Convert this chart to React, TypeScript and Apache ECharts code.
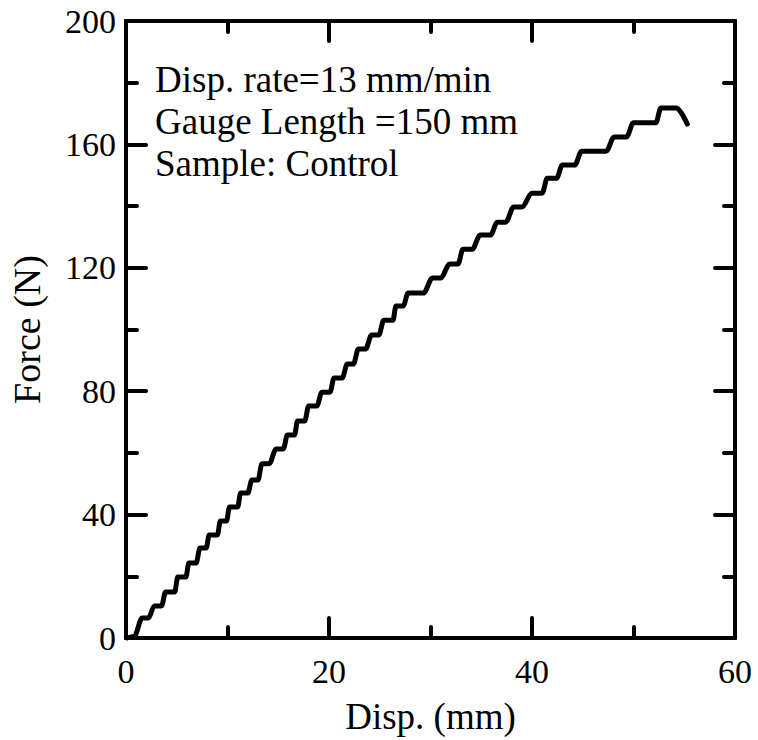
import React, { useEffect, useRef } from "react";
import * as echarts from "echarts";

const dispMM = [0.1, 0.8, 1.6, 2.2, 2.8, 3.5, 3.9, 4.8, 5.1, 5.9, 6.2, 6.9, 7.3, 7.9, 8.2, 9.0, 9.3, 9.9, 10.2, 11.0, 11.3, 12.0, 12.4, 13.0, 13.4, 14.1, 14.8, 15.5, 15.9, 16.6, 16.9, 17.6, 18.0, 18.8, 19.3, 20.1, 20.5, 21.3, 21.8, 22.4, 22.9, 23.6, 24.2, 24.9, 25.4, 26.3, 26.6, 27.3, 27.8, 29.3, 30.2, 31.0, 31.9, 32.7, 33.2, 34.1, 34.9, 35.9, 36.6, 37.4, 38.2, 39.0, 40.0, 41.0, 41.5, 42.4, 43.0, 44.2, 44.9, 47.3, 48.1, 49.3, 50.0, 52.2, 52.7, 54.2, 55.3];
const forceN = [0, 0.5, 6.5, 6.5, 10.4, 10.4, 14.9, 14.9, 19.8, 19.8, 24.3, 24.3, 29.2, 29.2, 33.4, 33.4, 37.9, 37.9, 42.5, 42.5, 47.0, 47.0, 51.2, 51.2, 56.5, 56.5, 61.3, 61.3, 65.8, 65.8, 70.3, 70.3, 75.2, 75.2, 79.7, 79.7, 84.3, 84.3, 88.8, 88.8, 93.7, 93.7, 98.2, 98.2, 103, 103, 107.6, 107.6, 111.8, 111.8, 116.7, 116.7, 121.2, 121.2, 126, 126, 130.6, 130.6, 134.8, 134.8, 139.7, 139.7, 144.2, 144.2, 149, 149, 153.3, 153.3, 157.8, 157.8, 162.4, 162.4, 167, 167, 171.8, 171.8, 166.6];
const annotations = ["Disp. rate=13 mm/min", "Gauge Length =150 mm", "Sample: Control"];
const xTitle = "Disp. (mm)";
const yTitle = "Force (N)";

const FONT = "'Liberation Serif', 'Times New Roman', serif";

export default function App() {
  const ref = useRef<HTMLDivElement>(null);
  useEffect(() => {
    document.body.style.margin = "0";
    if (!ref.current) return;
    const chart = echarts.init(ref.current, null, { renderer: "svg" });
    const axisLine = { show: true, onZero: false, lineStyle: { color: "#000", width: 4 } };
    const tick = { show: true, inside: true, length: 20, lineStyle: { color: "#000", width: 4, cap: "round" } };
    const minor = { show: true, splitNumber: 2, length: 11, lineStyle: { color: "#000", width: 4, cap: "round" } };
    const label = { color: "#000", fontFamily: FONT, fontSize: 34 };
    const xCommon = { type: "value", min: 0, max: 60, interval: 20, splitLine: { show: false }, axisLine, axisTick: tick, minorTick: minor };
    const yCommon = { type: "value", min: 0, max: 200, interval: 40, splitLine: { show: false }, axisLine, axisTick: tick, minorTick: minor };
    chart.setOption({
      animation: false,
      backgroundColor: "#fff",
      grid: { left: 120, right: 23, top: 21, bottom: 102, containLabel: false },
      xAxis: [
        { ...xCommon, position: "bottom", axisLabel: { ...label, margin: 16 }, name: xTitle, nameLocation: "middle", nameGap: 60, nameTextStyle: { ...label, fontSize: 37 } },
        { ...xCommon, position: "top", axisLabel: { show: false } },
      ],
      yAxis: [
        { ...yCommon, position: "left", axisLabel: { ...label, margin: 10 }, name: yTitle, nameLocation: "middle", nameGap: 80, nameTextStyle: { ...label, fontSize: 38 } },
        { ...yCommon, position: "right", axisLabel: { show: false } },
      ],
      series: [
        {
          type: "line",
          data: dispMM.map((x, i) => [x, forceN[i]]),
          showSymbol: false,
          symbol: "none",
          smooth: 0.35,
          smoothMonotone: "x",
          lineStyle: { color: "#000", width: 5, cap: "round", join: "round" },
          clip: false,
        },
      ],
      graphic: [
        {
          type: "text",
          left: 155,
          top: 58,
          style: { text: annotations.join("\n"), fill: "#000", font: `37px ${FONT}`, lineHeight: 42 },
        },
      ],
    });
    return () => chart.dispose();
  }, []);
  return <div ref={ref} style={{ width: 758, height: 740 }} />;
}
